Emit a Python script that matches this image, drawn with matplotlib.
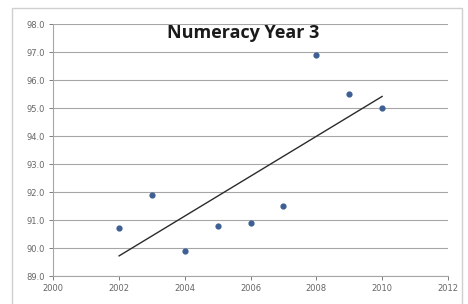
import numpy as np
import matplotlib
matplotlib.use('Agg')
from matplotlib import pyplot as plt
from matplotlib.patches import Rectangle

# Numeracy Year 3 results
years = [2002, 2003, 2004, 2005, 2006, 2007, 2008, 2009, 2010]
scores = [90.7, 91.9, 89.9, 90.8, 90.9, 91.5, 96.9, 95.5, 95.0]
x_ticks = [2000, 2002, 2004, 2006, 2008, 2010, 2012]
y_ticks = [89.0, 90.0, 91.0, 92.0, 93.0, 94.0, 95.0, 96.0, 97.0, 98.0]

fig = plt.figure(figsize=(4.68, 3.04), dpi=100)
ax = fig.add_axes([0.114, 0.092, 0.843, 0.829])

# chart border
fig.patches.append(Rectangle((12 / 468, -0.02), 450 / 468, 1 - 8 / 304 + 0.02,
                             transform=fig.transFigure, fill=False,
                             edgecolor='#cfcfcf', linewidth=1.0))

for y in y_ticks:
    ax.axhline(y, color='#a6a6a6', linewidth=0.8, zorder=0)

ax.scatter(years, scores, s=12, color='#3e5f94', zorder=3)

# linear trendline
slope, intercept = np.polyfit(years, scores, 1)
fit_x = np.array([years[0], years[-1]])
ax.plot(fit_x, slope * fit_x + intercept, color='#2b2b2b', linewidth=1.0, zorder=2)

ax.set_xlim(2000, 2012)
ax.set_ylim(89.0, 98.0)
ax.set_xticks(x_ticks)
ax.set_xticklabels([str(v) for v in x_ticks])
ax.set_yticks(y_ticks)
ax.set_yticklabels([f'{v:.1f}' for v in y_ticks])
ax.tick_params(labelsize=6, colors='#666666', length=3, width=0.6, pad=3)

for side in ['top', 'right']:
    ax.spines[side].set_visible(False)
ax.spines['left'].set_color('#a6a6a6')
ax.spines['bottom'].set_color('#a6a6a6')
ax.spines['left'].set_linewidth(0.8)
ax.spines['bottom'].set_linewidth(0.8)

ax.text(0.48, 0.965, 'Numeracy Year 3', transform=ax.transAxes, ha='center', va='center',
        fontsize=13, fontweight='bold', family=['Open Sans', 'DejaVu Sans'], color='#1a1a1a')

fig.savefig('out.png', dpi=100)
